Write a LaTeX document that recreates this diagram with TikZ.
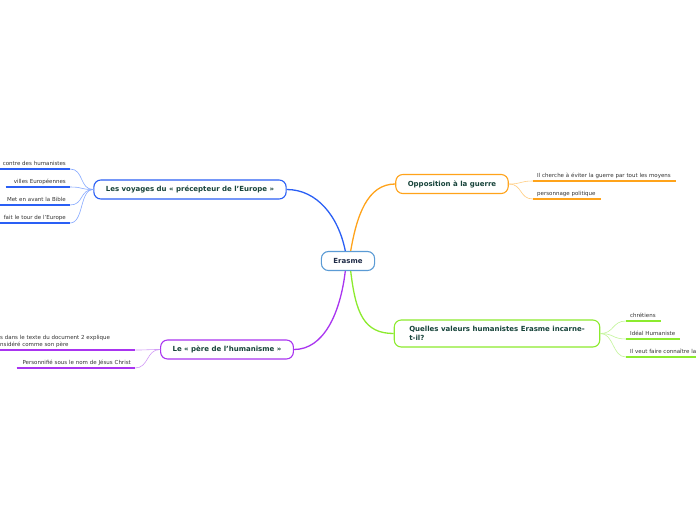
\documentclass[tikz,border=0pt]{standalone}
\usepackage{fontspec}
\setsansfont{DejaVu Sans}
\usepackage{tikz}
\usetikzlibrary{calc}
\usepackage{xcolor}
\definecolor{cblue}{HTML}{2A5FF5}
\definecolor{cbluel}{HTML}{86A9FF}
\definecolor{corange}{HTML}{FFA31A}
\definecolor{corangel}{HTML}{FFCF85}
\definecolor{cgreen}{HTML}{8CEB2E}
\definecolor{cgreenl}{HTML}{C3F59A}
\definecolor{cpurple}{HTML}{A934F0}
\definecolor{cpurplel}{HTML}{D29CF7}
\definecolor{cerasme}{HTML}{5B9BD5}
\definecolor{cteal}{HTML}{17433A}
\definecolor{cnavy}{HTML}{1F2B47}
\definecolor{cleaf}{HTML}{333333}

\begin{document}
\begin{tikzpicture}[
    x=1pt, y=-1pt,
    root/.style={draw=cerasme, line width=1.1pt, rounded corners=7pt, fill=white, minimum height=19pt, inner xsep=12pt, font=\sffamily\bfseries\fontsize{7}{8}\selectfont, text=cnavy},
    topic/.style={draw=#1, line width=1.1pt, rounded corners=7pt, fill=white, minimum height=19pt, inner xsep=12pt, font=\sffamily\bfseries\fontsize{7}{9}\selectfont, text=cteal},
    leaf/.style={font=\sffamily\fontsize{5.5}{6.5}\selectfont, text=cleaf, inner xsep=4pt, inner ysep=2.5pt, text height=4pt, text depth=1.3pt},
    link/.style={draw=#1, line width=1.3pt},
    twig/.style={draw=#1, line width=0.6pt},
    under/.style={draw=#1, line width=2pt}
]
    \useasboundingbox[fill=white] (0,0) rectangle (696,520);

    % centre et branches
    \node[root] (erasme) at (348,261) {Erasme};
    \node[topic=cblue] (voyages) at (190,189.5) {Les voyages du « précepteur de l'Europe »};
    \node[topic=corange] (guerre) at (452,184) {Opposition à la guerre};
    \node[topic=cgreen, minimum height=27pt, inner xsep=15pt, align=left] (valeurs) at (497,333.5) {Quelles valeurs humanistes Erasme incarne-\\t-il?};
    \node[topic=cpurple] (pere) at (227,349.5) {Le « père de l'humanisme »};

    \draw[link=cblue] (erasme.105) .. controls +(-7,-35) and +(30,0) .. (voyages.east);
    \draw[link=corange] (erasme.75) .. controls +(6,-35) and +(-28,0) .. (guerre.west);
    \draw[link=cgreen] (erasme.-75) .. controls +(5,42) and +(-30,0) .. (valeurs.west);
    \draw[link=cpurple] (erasme.-105) .. controls +(-5,42) and +(30,0) .. (pere.east);

    % voyages
    \node[leaf, anchor=south east, text width=64pt, align=right] (v1) at (70,169) {contre des humanistes};
    \node[leaf, anchor=south east, text width=56pt, align=right] (v2) at (70,187) {villes Européennes};
    \node[leaf, anchor=south east, text width=62pt, align=right] (v3) at (70,205) {Met en avant la Bible};
    \node[leaf, anchor=south east, text width=66pt, align=right] (v4) at (70,223) {fait le tour de l'Europe};
    \foreach \n in {v1,v2,v3,v4} {
        \draw[twig=cbluel] (voyages.west) .. controls +(-14,0) and +(14,0) .. (\n.south east);
        \draw[under=cblue] (\n.south west) -- (\n.south east);
    }

    % guerre
    \node[leaf, anchor=south west, text width=135pt, align=left] (g1) at (533,181) {Il cherche à éviter la guerre par tout les moyens};
    \node[leaf, anchor=south west, text width=60pt, align=left] (g2) at (533,199) {personnage politique};
    \foreach \n in {g1,g2} {
        \draw[twig=corangel] (guerre.east) .. controls +(14,0) and +(-14,0) .. (\n.south west);
        \draw[under=corange] (\n.south west) -- (\n.south east);
    }

    % valeurs
    \node[leaf, anchor=south west, text width=27pt, align=left] (h1) at (626,321) {chrétiens};
    \node[leaf, anchor=south west, text width=46pt, align=left] (h2) at (626,339) {Idéal Humaniste};
    \node[leaf, anchor=south west, text width=85pt, align=left] (h3) at (626,357) {Il veut faire connaître la};
    \foreach \n in {h1,h2,h3} {
        \draw[twig=cgreenl] (valeurs.east) .. controls +(14,0) and +(-14,0) .. (\n.south west);
        \draw[under=cgreen] (\n.south west) -- (\n.south east);
    }

    % pere
    \node[leaf, anchor=south west, text width=131pt, align=left, text height=, text depth=] (p1) at (-4,350) {s dans le texte du document 2 explique\\nsidéré comme son père};
    \node[leaf, anchor=south east, text width=110pt, align=right] (p2) at (135,368) {Personnifié sous le nom de Jésus Christ};
    \foreach \n in {p1,p2} {
        \draw[twig=cpurplel] (pere.west) .. controls +(-14,0) and +(14,0) .. (\n.south east);
        \draw[under=cpurple] (\n.south west) -- (\n.south east);
    }
\end{tikzpicture}
\end{document}
